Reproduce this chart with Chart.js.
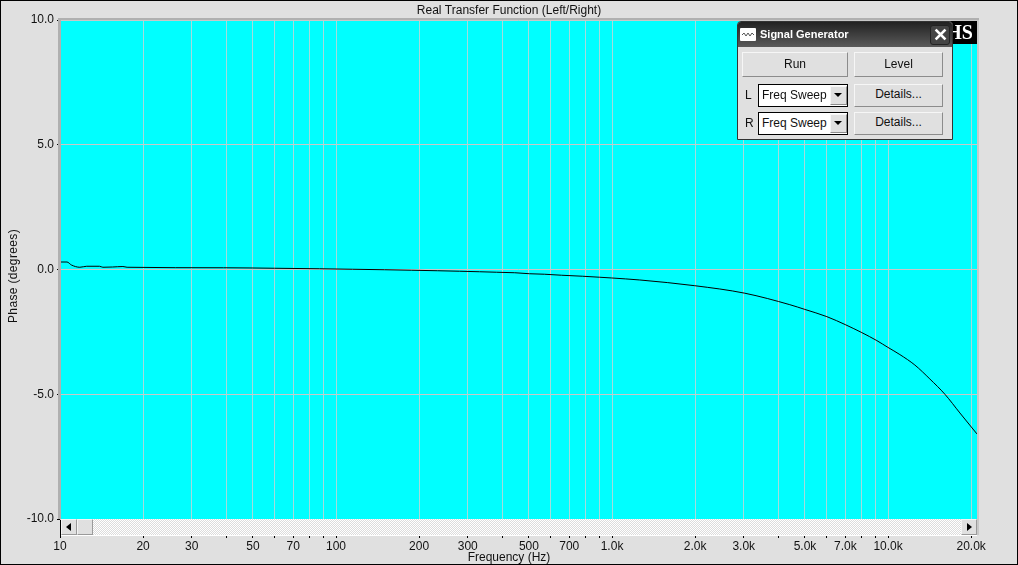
<!DOCTYPE html>
<html lang="en">
<head>
<meta charset="UTF-8">
<title>Real Transfer Function (Left/Right)</title>
<script src="https://cdn.jsdelivr.net/npm/chart.js"></script>
<style>
  html, body { margin: 0; padding: 0; background: #e0e0e0; overflow: hidden; }
  #wrap { position: relative; width: 1018px; height: 565px; font-family: "Liberation Sans", Arial, sans-serif; font-size: 12px; color: #111; }
  canvas { position: absolute; left: 0; top: 0; }
  #frame { position: absolute; left: 0; top: 0; width: 1016px; height: 563px; border: 1px solid #000; pointer-events: none; }
  #ytitle { position: absolute; left: 13px; top: 276px; transform: translate(-50%, -50%) rotate(-90deg); white-space: nowrap; letter-spacing: .35px; }

  /* scrollbar under the plot */
  #scroll { position: absolute; left: 61px; top: 519px; width: 916px; height: 16px; background: repeating-conic-gradient(#dcdcdc 0 25%, #fff 0 50%) 0 0 / 2px 2px; border-bottom: 1px solid #fff; }
  .sb { position: absolute; top: 0; width: 14px; height: 14px; background: #e0e0e0; border: 1px solid; border-color: #f4f4f4 #9a9a9a #9a9a9a #f4f4f4; }
  .tri { position: absolute; top: 3px; width: 0; height: 0; border-top: 4px solid transparent; border-bottom: 4px solid transparent; }

  /* logo behind the dialog */
  #logo { position: absolute; left: 945px; top: 21px; width: 32px; height: 23px; background: #000; color: #fff; font: bold 20px "Liberation Serif", serif; line-height: 23px; text-align: right; overflow: hidden; }
  #logo span { margin-right: 4px; }

  /* signal generator dialog */
  #dlg { position: absolute; left: 737px; top: 21px; width: 214px; height: 117px; background: #e0e0e0; border: 1px solid #333; border-radius: 4px 4px 0 0; }
  #bar { position: absolute; left: 0; top: 0; width: 214px; height: 25px; background: linear-gradient(#222, #5a5a5a); border-radius: 3px 3px 0 0; color: #fff; font: bold 11px "Liberation Sans", sans-serif; line-height: 25px; }
  #bar b { position: absolute; left: 22px; top: 0; }
  #ico { position: absolute; left: 2px; top: 6px; width: 16px; height: 13px; background: #fff; border-radius: 1px; }
  #ico svg { display: block; }
  #x { position: absolute; left: 192px; top: 3px; width: 18px; height: 18px; background: #444; border: 1px solid #222; border-radius: 3px; color: #fff; font: bold 18px/18px "Liberation Sans", sans-serif; text-align: center; }
  .btn { position: absolute; background: #e0e0e0; border: 1px solid; border-color: #f6f6f6 #8c8c8c #8c8c8c #f6f6f6; text-align: center; box-sizing: border-box; }
  .sel { position: absolute; left: 20px; width: 90px; height: 23px; box-sizing: border-box; background: #fff; border: 1px solid #000; line-height: 21px; padding-left: 3px; white-space: nowrap; overflow: hidden; }
  .arr { position: absolute; left: 71px; top: 1px; width: 15px; height: 17px; background: #e0e0e0; border: 1px solid; border-color: #f6f6f6 #8c8c8c #8c8c8c #f6f6f6; }
  .arr i { position: absolute; left: 3px; top: 6px; width: 0; height: 0; border-left: 4px solid transparent; border-right: 4px solid transparent; border-top: 4px solid #000; }
  .lab { position: absolute; left: 7px; }
</style>
</head>
<body>
<div id="wrap">
  <canvas id="phase" width="1018" height="565"></canvas>
  <div id="frame"></div>
  <div id="ytitle">Phase (degrees)</div>

  <div id="scroll">
    <div class="sb" style="left:0"><div class="tri" style="left:4px;border-right:5px solid #000"></div></div>
    <div class="sb" style="left:16px"></div>
    <div class="sb" style="right:0"><div class="tri" style="left:5px;border-left:5px solid #000"></div></div>
  </div>

  <div id="logo"><span>HS</span></div>

  <div id="dlg">
    <div id="bar">
      <div id="ico"><svg width="16" height="13"><polyline points="2,7 4,5 6,8 8,5 10,8 12,5 14,7" fill="none" stroke="#555"/></svg></div>
      <b>Signal Generator</b><div id="x">&#10005;</div>
    </div>
    <div class="btn" style="left:4px;top:30px;width:106px;height:25px;line-height:23px">Run</div>
    <div class="btn" style="left:116px;top:30px;width:89px;height:25px;line-height:23px">Level</div>
    <div class="lab" style="top:66px">L</div>
    <div class="sel" style="top:62px">Freq Sweep<div class="arr"><i></i></div></div>
    <div class="btn" style="left:116px;top:62px;width:89px;height:23px;line-height:19px">Details...</div>
    <div class="lab" style="top:94px">R</div>
    <div class="sel" style="top:90px">Freq Sweep<div class="arr"><i></i></div></div>
    <div class="btn" style="left:116px;top:90px;width:89px;height:23px;line-height:19px">Details...</div>
  </div>
</div>

<script>
// values
const freqs = [10, 10.6, 11, 11.8, 12.5, 13.9, 14.3, 15.5, 16.9, 17.5, 39.1, 59.9, 87.2, 114.9, 150, 188, 233.5, 280.5, 331, 382, 444, 503, 570, 657, 783, 902, 997, 1260, 1994, 3026, 4406, 4994, 6002, 7031, 8035, 9107, 9984, 11037, 12508, 14176, 16066, 18208, 20990];
const phases = [0.30, 0.30, 0.18, 0.09, 0.13, 0.13, 0.09, 0.10, 0.12, 0.09, 0.07, 0.05, 0.03, 0.01, -0.01, -0.03, -0.05, -0.07, -0.09, -0.11, -0.13, -0.17, -0.19, -0.23, -0.27, -0.31, -0.34, -0.42, -0.65, -0.95, -1.41, -1.60, -1.89, -2.22, -2.53, -2.85, -3.12, -3.41, -3.83, -4.39, -5.00, -5.75, -6.59];

const xTickValues = [10, 20, 30, 40, 50, 60, 70, 80, 90, 100, 200, 300, 400, 500, 600, 700, 800, 900, 1000, 2000, 3000, 4000, 5000, 6000, 7000, 8000, 9000, 10000, 20000];
const xTickLabels = ['10', '20', '30', '', '50', '', '70', '', '', '100', '200', '300', '', '500', '', '700', '', '', '1.0k', '2.0k', '3.0k', '', '5.0k', '', '7.0k', '', '', '10.0k', '20.0k'];

const font = { family: '"Liberation Sans", Arial, sans-serif', size: 12, weight: 'normal' };

// cyan plot area and the grey bevel round it
const plotBack = {
    id: 'plotBack',
    beforeDraw(c) {
        const a = c.chartArea, g = c.ctx;
        g.save();
        g.fillStyle = '#00ffff';
        g.fillRect(a.left, a.top, a.right - a.left, a.bottom - a.top);
        g.restore();
    },
    afterDraw(c) {
        const a = c.chartArea, g = c.ctx;
        g.save();
        g.fillStyle = '#b0b0b0';
        g.fillRect(a.left - 2, a.top - 2, a.right - a.left + 4, 2);
        g.fillRect(a.left - 2, a.top, 3, a.bottom - a.top);
        g.fillStyle = '#c8c8c8';
        g.fillRect(a.right, a.top, 2, a.bottom - a.top + 16);
        g.restore();
    }
};

new Chart(document.getElementById('phase'), {
    type: 'line',
    data: {
        labels: freqs,
        datasets: [{
            data: freqs.map((f, i) => ({ x: f, y: phases[i] })),
            borderColor: '#000',
            borderWidth: 1,
            pointRadius: 0,
            cubicInterpolationMode: 'monotone'
        }]
    },
    options: {
        responsive: false,
        animation: false,
        plugins: {
            legend: { display: false },
            tooltip: { enabled: false },
            title: {
                display: true,
                text: 'Real Transfer Function (Left/Right)',
                color: '#111',
                font,
                padding: { top: 3, bottom: 2.6 }
            },
            subtitle: {
                display: true,
                position: 'bottom',
                text: 'Frequency (Hz)',
                color: '#111',
                font,
                padding: { top: 0, bottom: 0.6 }
            }
        },
        scales: {
            x: {
                type: 'logarithmic',
                min: 10,
                max: 21000,
                afterBuildTicks: ax => { ax.ticks = xTickValues.map(v => ({ value: v })); },
                afterFit: ax => { ax.height = 31; },
                ticks: {
                    callback: v => xTickLabels[xTickValues.indexOf(v)] ?? '',
                    autoSkip: false,
                    maxRotation: 0,
                    padding: 1,
                    color: '#111',
                    font
                },
                grid: { color: '#a4dcdc', tickColor: '#000', tickLength: 19 },
                border: { display: false }
            },
            y: {
                min: -10,
                max: 10,
                afterFit: ax => { ax.width = 60; },
                ticks: {
                    stepSize: 5,
                    callback: v => v.toFixed(1),
                    padding: 3,
                    color: '#111',
                    font
                },
                grid: { color: '#c8c8c8', tickColor: '#000', tickLength: 3 },
                border: { display: false }
            },
            // empty axis, only keeps the grey margin right of the plot
            yRight: {
                position: 'right',
                display: true,
                afterFit: ax => { ax.width = 41; },
                ticks: { display: false },
                grid: { display: false },
                border: { display: false }
            }
        }
    },
    plugins: [plotBack]
});
</script>
</body>
</html>
